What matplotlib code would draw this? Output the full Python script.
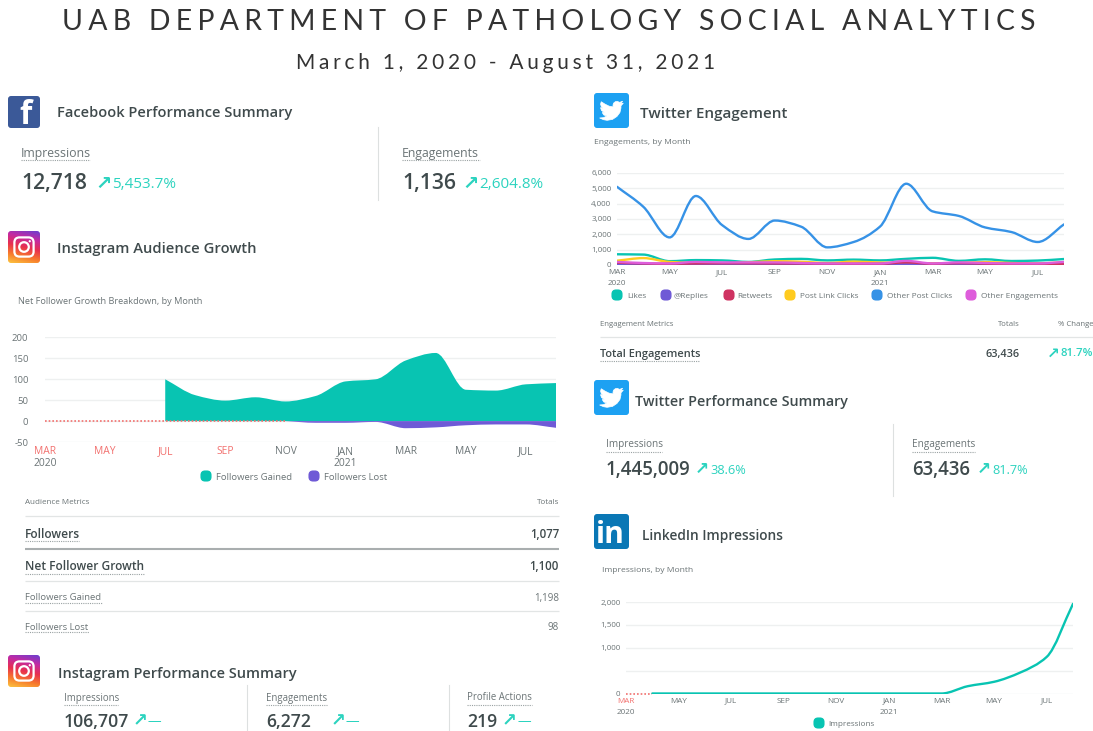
# -*- coding: utf-8 -*-
import numpy as np
import matplotlib
matplotlib.use("Agg")
import matplotlib.pyplot as plt
from matplotlib.path import Path
from matplotlib.patches import PathPatch, FancyBboxPatch, Polygon, Circle
from matplotlib.colors import LinearSegmentedColormap

W, H = 1093, 731
plt.rcParams['font.family'] = ['Open Sans', 'DejaVu Sans']

# colours
TEAL = "#08C4B2"
PURPLE = "#6F5AD6"
CRIMSON = "#CF3362"
YELLOW = "#FFCB1F"
BLUE = "#3692E6"
MAGENTA = "#DE5DDB"
GRID = "#EEF0F0"
DARK = "#3F4A4C"
MID = "#6B7476"
RED = "#F2706E"
ARROW = "#2CD3BF"

# data
months = ["MAR", "APR", "MAY", "JUN", "JUL", "AUG", "SEP", "OCT", "NOV", "DEC",
          "JAN", "FEB", "MAR", "APR", "MAY", "JUN", "JUL", "AUG"]
month_idx = list(range(18))

gained_start = 4
gained = [100, 62, 49, 57, 47, 60, 95, 100, 145, 163, 75, 73, 88, 91]
lost_start = 8
lost = [0, -4, -4, -2, -17, -15, -10, -8, -8, -16]

likes = [700, 680, 250, 320, 300, 200, 360, 400, 300, 350, 300, 400, 470, 270, 370, 260, 290, 390]
replies = [50, 40, 30, 40, 40, 40, 40, 40, 30, 30, 30, 50, 30, 40, 30, 30, 30, 40]
retweets = [150, 100, 80, 100, 110, 110, 100, 100, 80, 80, 80, 170, 80, 120, 90, 70, 70, 80]
link_clicks = [280, 450, 200, 130, 110, 170, 250, 210, 130, 220, 160, 130, 100, 130, 190, 130, 100, 180]
post_clicks = [5100, 3800, 1800, 4500, 2600, 1700, 2900, 2500, 1150, 1500, 2500, 5300, 3500, 3200, 2450, 2150, 1500, 2650]
other_eng = [200, 130, 100, 200, 170, 170, 170, 130, 100, 100, 100, 270, 100, 170, 130, 100, 100, 200]

li_start = 1
li_impr = [0, 0, 0, 0, 0, 0, 0, 0, 0, 0, 0, 0, 160, 256, 460, 800, 1960]

fig = plt.figure(figsize=(W / 100, H / 100), dpi=100, facecolor="white")
bg = fig.add_axes([0, 0, 1, 1])
bg.set_xlim(0, W)
bg.set_ylim(H, 0)
bg.axis("off")


def smooth_path(xs, ys):
    # monotone cubic through the read values, as bezier segments
    xs = np.asarray(xs, float)
    ys = np.asarray(ys, float)
    d = np.diff(ys) / np.diff(xs)
    t = np.zeros(len(ys))
    t[0], t[-1] = d[0], d[-1]
    for i in range(1, len(ys) - 1):
        if d[i - 1] * d[i] > 0:
            t[i] = 2 * d[i - 1] * d[i] / (d[i - 1] + d[i])
    verts = [(xs[0], ys[0])]
    for i in range(len(ys) - 1):
        h = (xs[i + 1] - xs[i]) / 3
        verts += [(xs[i] + h, ys[i] + t[i] * h),
                  (xs[i + 1] - h, ys[i + 1] - t[i + 1] * h),
                  (xs[i + 1], ys[i + 1])]
    return verts


def curve(ax, xs, ys, color, lw=2.0):
    verts = smooth_path(xs, ys)
    codes = [Path.MOVETO] + [Path.CURVE4] * (len(verts) - 1)
    ax.add_patch(PathPatch(Path(verts, codes), fill=False, edgecolor=color, lw=lw,
                           capstyle="round", zorder=3))


def area(ax, xs, ys, color):
    verts = smooth_path(xs, ys)
    codes = [Path.MOVETO] + [Path.CURVE4] * (len(verts) - 1)
    verts = verts + [(xs[-1], 0), (xs[0], 0), (xs[0], ys[0])]
    codes = codes + [Path.LINETO, Path.LINETO, Path.CLOSEPOLY]
    ax.add_patch(PathPatch(Path(verts, codes), facecolor=color, edgecolor="none", zorder=3))


def chart(x0, y0, x1, y1, ylim, yticks, ylabels, red_labels, y_fs, x_fs, year_px, y_pad=4):
    ax = fig.add_axes([x0 / W, 1 - y1 / H, (x1 - x0) / W, (y1 - y0) / H])
    ax.patch.set_alpha(0)
    ax.set_xlim(0, 17)
    ax.set_ylim(*ylim)
    for s in ax.spines.values():
        s.set_visible(False)
    ax.set_yticks(yticks)
    ax.set_yticklabels(ylabels, fontsize=y_fs, color=MID)
    ax.set_xticks(month_idx[::2])
    ax.set_xticklabels(months[::2], fontsize=x_fs, color=MID)
    for i, lab in enumerate(ax.get_xticklabels()):
        if i in red_labels:
            lab.set_color(RED)
    ax.tick_params(axis="x", length=0, pad=3)
    ax.tick_params(axis="y", length=0, pad=y_pad)
    ax.grid(axis="y", color=GRID, lw=1)
    ax.set_axisbelow(True)
    for i, yr in [(0, "2020"), (10, "2021")]:
        ax.text(i, -year_px / (y1 - y0), yr, fontsize=x_fs, color=MID, ha="center", va="center",
                transform=ax.get_xaxis_transform())
    return ax


def t(x, y, s, size=7, color=MID, weight="normal", ha="left", **kw):
    return bg.text(x, y + 1, s, fontsize=size, color=color, fontweight=weight, ha=ha, va="center", **kw)


def hrule(x0, x1, y, color="#E2E5E5", lw=0.9):
    bg.plot([x0, x1], [y, y], color=color, lw=lw, solid_capstyle="butt")


def vrule(x, y0, y1):
    bg.plot([x, x], [y0, y1], color="#DDE0E0", lw=0.8)


def under(x0, x1, y):
    bg.plot([x0, x1], [y, y], color="#9AA2A3", lw=0.8, ls=(0, (1, 1)))


def metric(x, y_label, y_val, label, label_end, value, arrow_x, change, change_x, label_fs, val_fs, chg_fs):
    t(x, y_label, label, label_fs, MID)
    under(x, label_end, y_label + 8)
    t(x, y_val, value, val_fs, DARK, "semibold")
    t(arrow_x, y_val - 1, "↗", chg_fs + 3, ARROW, "bold", family=["DejaVu Sans"])
    t(change_x, y_val, change, chg_fs, ARROW)


def key(x, y, color):
    bg.add_patch(FancyBboxPatch((x - 4.5, y - 4.5), 9, 9, boxstyle="round,pad=0,rounding_size=3.5",
                                mutation_aspect=1, facecolor=color, edgecolor=color, lw=1.5))


def tile(x, y, s, color):
    p = FancyBboxPatch((x + 2, y + 2), s - 4, s - 4, boxstyle="round,pad=2,rounding_size=3",
                       facecolor=color, edgecolor="none", zorder=2)
    bg.add_patch(p)
    return p


def facebook(x, y, s):
    tile(x, y, s, "#3B5998")
    bg.text(x + s * 0.56, y + s * 0.6, "f", fontsize=s * 0.72, color="white", fontweight="bold",
            ha="center", va="center", zorder=3)


def twitter(x, y, s):
    tile(x, y, s, "#1DA1F2")
    bird = [(23.95, 4.57), (21.13, 5.35), (23.29, 2.62), (20.16, 3.81), (18, 2.85), (15.9, 3.1),
            (14.1, 4.6), (13.5, 6.5), (13.65, 8.4), (9.5, 7.6), (5.3, 5.5), (1.64, 3.16), (1, 5.6),
            (1.6, 7.8), (3.16, 9.73), (0.93, 9.12), (1.9, 12), (4.88, 14), (2.67, 14.1), (4.2, 16.5),
            (7.27, 17.5), (4, 19.2), (0, 19.54), (4, 21.3), (7.56, 21.9), (13, 21), (17.5, 18),
            (20.5, 14), (21.55, 9.5), (21.53, 7.3)]
    k = s * 0.68 / 24
    pts = [(x + s * 0.16 + a * k, y + s * 0.16 + b * k) for a, b in bird]
    bg.add_patch(Polygon(pts, closed=True, facecolor="white", edgecolor="white", lw=0.5, zorder=3))


def linkedin(x, y, s):
    tile(x, y, s, "#0A77B5")
    bg.text(x + s * 0.47, y + s * 0.6, "in", fontsize=s * 0.62, color="white", fontweight="bold",
            ha="center", va="center", zorder=3)


ig_cmap = LinearSegmentedColormap.from_list("ig", ["#FCC440", "#F77A2C", "#E8304F", "#C32AA3", "#6A3FD0"])


def instagram(x, y, s):
    g = np.linspace(0, 1, 64)
    xx, yy = np.meshgrid(g, g)
    im = bg.imshow((1 - yy) * 0.8 + xx * 0.2, cmap=ig_cmap, extent=(x, x + s, y + s, y),
                   aspect="auto", zorder=2, origin="upper", vmin=0, vmax=1)
    clip = FancyBboxPatch((x + 2, y + 2), s - 4, s - 4, boxstyle="round,pad=2,rounding_size=3",
                          facecolor="none", edgecolor="none", transform=bg.transData)
    bg.add_patch(clip)
    im.set_clip_path(clip)
    bg.add_patch(FancyBboxPatch((x + s * 0.2, y + s * 0.2), s * 0.6, s * 0.6,
                                boxstyle="round,pad=0,rounding_size=%f" % (s * 0.16),
                                facecolor="none", edgecolor="white", lw=1.6, zorder=3))
    bg.add_patch(Circle((x + s / 2, y + s / 2), s * 0.15, facecolor="none", edgecolor="white", lw=1.6, zorder=3))
    bg.add_patch(Circle((x + s * 0.68, y + s * 0.32), s * 0.035, facecolor="white", edgecolor="none", zorder=3))
    bg.set_xlim(0, W)
    bg.set_ylim(H, 0)


def spaced(s, gap):
    return gap.join(s)


# page title
t(548.5, 21, spaced("UAB DEPARTMENT OF PATHOLOGY SOCIAL ANALYTICS", "\u200a\u200a\u200a"), 20.4, "#333333", "normal",
  ha="center", family=["Lato", "DejaVu Sans"])
t(506, 62, spaced("March 1, 2020 - August 31, 2021", "\u200a\u200a\u200a"), 15, "#333333", "normal",
  ha="center", family=["Lato", "DejaVu Sans"])

# facebook block
facebook(8, 96, 32)
t(57, 112, "Facebook Performance Summary", 10.5, DARK, "semibold")
metric(21, 152, 183, "Impressions", 90, "12,718", 95, "5,453.7%", 112, 8.8, 15.2, 11)
vrule(378, 127, 200)
metric(402, 152, 183, "Engagements", 480, "1,136", 462, "2,604.8%", 479, 8.8, 15.2, 11)

# instagram audience block
instagram(8, 231, 32)
t(57, 248, "Instagram Audience Growth", 10.6, DARK, "semibold")
t(18, 301, "Net Follower Growth Breakdown, by Month", 6.6)
ax1 = chart(45, 337.5, 556, 442, (-50, 200), [-50, 0, 50, 100, 150, 200],
            ["-50", "0", "50", "100", "150", "200"], {0, 1, 2, 3}, 6.8, 7.4, 22, 12)
area(ax1, month_idx[gained_start:], gained, TEAL)
area(ax1, month_idx[lost_start:], lost, PURPLE)
ax1.plot([0, 8], [0, 0], color=RED, lw=1.2, ls=(0, (1, 1.2)), zorder=4)
key(206, 476, TEAL)
t(216, 476, "Followers Gained", 6.8)
key(314, 476, PURPLE)
t(324, 476, "Followers Lost", 6.8)

t(25, 502, "Audience Metrics", 5.8)
t(559, 502, "Totals", 5.8, ha="right")
hrule(25, 559, 516)
t(25, 533, "Followers", 8.6, DARK, "semibold")
under(25, 79, 541)
t(559, 533, "1,077", 8.3, DARK, "semibold", ha="right")
hrule(25, 559, 548.5, "#A9AEAF", 1.5)
t(25, 566, "Net Follower Growth", 8.6, DARK, "semibold")
under(25, 144, 574)
t(559, 566, "1,100", 8.3, DARK, "semibold", ha="right")
hrule(25, 559, 581)
t(25, 597, "Followers Gained", 6.8, MID)
under(25, 102, 603)
t(559, 597, "1,198", 7, MID, ha="right")
hrule(25, 559, 611)
t(25, 626, "Followers Lost", 6.8, MID)
under(25, 89, 632)
t(559, 626, "98", 7, MID, ha="right")

# instagram summary block
instagram(8, 655, 32)
t(58, 673, "Instagram Performance Summary", 10.45, DARK, "semibold")
metric(64, 697, 721, "Impressions", 118, "106,707", 133, "—", 148, 6.9, 12.7, 9.8)
vrule(247, 685, 731)
metric(266, 697, 721, "Engagements", 327, "6,272", 331, "—", 346, 6.9, 12.7, 9.8)
vrule(449, 685, 731)
metric(467, 697, 721, "Profile Actions", 532, "219", 502, "—", 517, 6.9, 12.7, 9.8)

# twitter engagement block
twitter(594, 93, 35)
t(640, 113, "Twitter Engagement", 10.9, DARK, "semibold")
t(594, 142, "Engagements, by Month", 6.1)
ax2 = chart(617, 173, 1064, 265, (0, 6000), [0, 1000, 2000, 3000, 4000, 5000, 6000],
            ["0", "1,000", "2,000", "3,000", "4,000", "5,000", "6,000"], set(), 5.8, 5.9, 19)
for vals, col in [(post_clicks, BLUE), (likes, TEAL), (link_clicks, YELLOW),
                  (replies, PURPLE), (retweets, CRIMSON), (other_eng, MAGENTA)]:
    curve(ax2, month_idx, vals, col, 1.7)
tw_keys = [(617, TEAL, 627, "Likes"), (666, PURPLE, 674, "@Replies"), (729, CRIMSON, 737, "Retweets"),
           (790, YELLOW, 800, "Post Link Clicks"), (877, BLUE, 887, "Other Post Clicks"),
           (971, MAGENTA, 981, "Other Engagements")]
for kx, col, tx, name in tw_keys:
    key(kx, 295, col)
    t(tx, 295, name, 5.95)

t(600, 324, "Engagement Metrics", 5.6)
t(1020, 324, "Totals", 5.6, ha="right")
t(1093, 324, "% Change", 5.6, ha="right")
hrule(600, 1093, 337)
t(600, 353, "Total Engagements", 7.9, DARK, "semibold")
under(600, 700, 361)
t(1020, 353, "63,436", 7.8, DARK, "semibold", ha="right")
t(1047, 352, "↗", 11, ARROW, "bold", family=["DejaVu Sans"])
t(1093, 353, "81.7%", 8.2, ARROW, "semibold", ha="right")

# twitter summary block
twitter(594, 380, 35)
t(635, 401, "Twitter Performance Summary", 10.3, DARK, "semibold")
metric(606, 444, 469, "Impressions", 662, "1,445,009", 695, "38.6%", 710, 7.2, 13.4, 9.2)
vrule(893, 424, 496)
metric(912, 444, 469, "Engagements", 975, "63,436", 977, "81.7%", 992, 7.2, 13.4, 9.2)

# linkedin block
linkedin(594, 514, 35)
t(642, 535, "LinkedIn Impressions", 9.9, DARK, "semibold")
t(602, 570, "Impressions, by Month", 6.1)
ax3 = chart(626, 602, 1073, 693.5, (0, 2000), [0, 500, 1000, 1500, 2000],
            ["0", "", "1,000", "1,500", "2,000"], {0}, 5.8, 5.9, 19.5)
curve(ax3, month_idx[li_start:], li_impr, TEAL, 1.7)
ax3.plot([0, 1], [0, 0], color=RED, lw=1.2, ls=(0, (1, 1.2)), zorder=4, clip_on=False)
key(819, 723, TEAL)
t(828, 723, "Impressions", 5.9)

fig.savefig("out.png", dpi=100)
